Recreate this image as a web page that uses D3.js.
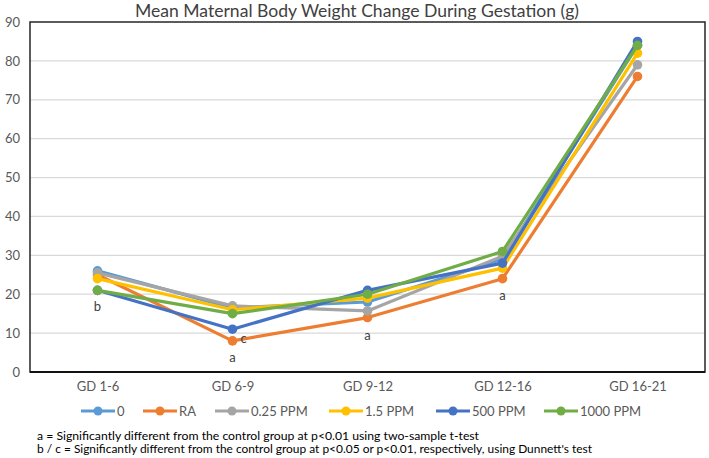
<!DOCTYPE html>
<html>
<head>
<meta charset="utf-8">
<script src="https://cdn.jsdelivr.net/npm/d3@7"></script>
<style>
  body { margin: 0; background: #fff; }
  svg { display: block; font-family: Lato, "Liberation Sans", sans-serif; }
</style>
</head>
<body>
<svg id="chart" width="709" height="458"></svg>
<script>
const categories = ["GD 1-6", "GD 6-9", "GD 9-12", "GD 12-16", "GD 16-21"];
const seriesNames = ["0", "RA", "0.25 PPM", "1.5 PPM", "500 PPM", "1000 PPM"];
const values0    = [26, 16.5, 18, 29, 84];
const valuesRA   = [25, 8, 14, 24, 76];
const values025  = [25.5, 17, 15.7, 29.8, 79];
const values15   = [24, 16, 19, 26.7, 82];
const values500  = [21, 11, 21, 28, 85];
const values1000 = [21, 15, 20, 31, 84];
const colors = ["#5B9BD5", "#ED7D31", "#A5A5A5", "#FFC000", "#4472C4", "#70AD47"];
const yTicks = [0, 10, 20, 30, 40, 50, 60, 70, 80, 90];
const annotations = [
  {cat: "GD 1-6", value: 21, text: "b", dx: 0, dy: 16},
  {cat: "GD 6-9", value: 8, text: "a", dx: 0, dy: 16},
  {cat: "GD 6-9", value: 11, text: "c", dx: 11, dy: 9},
  {cat: "GD 9-12", value: 14, text: "a", dx: 0, dy: 17},
  {cat: "GD 12-16", value: 24, text: "a", dx: 0, dy: 16}
];
const title = "Mean Maternal Body Weight Change During Gestation (g)";
const footnotes = [
  "a = Significantly different from the control group at p<0.01 using two-sample t-test",
  "b / c = Significantly different from the control group at p<0.05 or p<0.01, respectively, using Dunnett's test"
];

const allValues = [values0, valuesRA, values025, values15, values500, values1000];
const series = seriesNames.map((n, i) => ({name: n, color: colors[i], values: allValues[i]}));

const svg = d3.select("#chart");
const plot = {left: 30, right: 705, top: 22, bottom: 372};

const x = d3.scalePoint().domain(categories).range([plot.left, plot.right]).padding(0.5);
const y = d3.scaleLinear().domain([0, 90]).range([plot.bottom, plot.top]);

// Title
svg.append("text")
  .attr("x", 357).attr("y", 17)
  .attr("text-anchor", "middle")
  .attr("font-size", 17)
  .attr("fill", "#404040")
  .attr("textLength", 444).attr("lengthAdjust", "spacingAndGlyphs")
  .text(title);

// Gridlines
svg.append("g")
  .selectAll("line")
  .data(yTicks.filter(t => t > 0 && t < 90))
  .join("line")
  .attr("x1", plot.left).attr("x2", plot.right)
  .attr("y1", d => y(d)).attr("y2", d => y(d))
  .attr("stroke", "#d9d9d9").attr("stroke-width", 1.2);

// Frame
svg.append("rect")
  .attr("x", plot.left).attr("y", plot.top)
  .attr("width", plot.right - plot.left).attr("height", plot.bottom - plot.top)
  .attr("fill", "none").attr("stroke", "#262626").attr("stroke-width", 1.5);
svg.append("line")
  .attr("x1", plot.left).attr("x2", plot.right)
  .attr("y1", plot.bottom).attr("y2", plot.bottom)
  .attr("stroke", "#111").attr("stroke-width", 2);

// Y axis
const yAxis = d3.axisLeft(y).tickValues(yTicks).tickSize(0).tickPadding(10);
const yg = svg.append("g").attr("transform", `translate(${plot.left},0)`).call(yAxis);
yg.select(".domain").remove();
yg.selectAll("text").attr("font-size", 13).attr("fill", "#595959").attr("font-family", "Lato, sans-serif");

// X axis
const xAxis = d3.axisBottom(x).tickSize(0).tickPadding(10);
const xg = svg.append("g").attr("transform", `translate(0,${plot.bottom})`).call(xAxis);
xg.select(".domain").remove();
xg.selectAll("text").attr("font-size", 13).attr("fill", "#595959").attr("font-family", "Lato, sans-serif");

// Lines
const line = d3.line().x((d, i) => x(categories[i])).y(d => y(d));
const sg = svg.append("g").selectAll("g").data(series).join("g");
sg.append("path")
  .attr("d", d => line(d.values))
  .attr("fill", "none")
  .attr("stroke", d => d.color)
  .attr("stroke-width", 3.2)
  .attr("stroke-linejoin", "round");
sg.selectAll("circle")
  .data(d => d.values.map((v, i) => ({v, i, color: d.color})))
  .join("circle")
  .attr("cx", d => x(categories[d.i]))
  .attr("cy", d => y(d.v))
  .attr("r", 4.8)
  .attr("fill", d => d.color);

// Annotations
svg.append("g").selectAll("text").data(annotations).join("text")
  .attr("x", d => x(d.cat) + d.dx)
  .attr("y", d => y(d.value) + d.dy)
  .attr("text-anchor", "middle")
  .attr("dominant-baseline", "central")
  .attr("font-size", 13)
  .attr("fill", "#404040")
  .text(d => d.text);

// Legend
const legendX = [81, 143, 215, 329, 436, 544];
const legendY = 411;
const lg = svg.append("g").selectAll("g").data(series).join("g")
  .attr("transform", (d, i) => `translate(${legendX[i]},${legendY})`);
lg.append("line").attr("x1", 0).attr("x2", 34).attr("y1", 0).attr("y2", 0)
  .attr("stroke", d => d.color).attr("stroke-width", 3.2);
lg.append("circle").attr("cx", 17).attr("cy", 0).attr("r", 4.5).attr("fill", d => d.color);
lg.append("text").attr("x", 36).attr("y", 0)
  .attr("dominant-baseline", "central")
  .attr("font-size", 13).attr("fill", "#595959")
  .text(d => d.name);

// Footnotes
const fnWidths = [442, 555];
svg.append("g").selectAll("text").data(footnotes).join("text")
  .attr("x", 37)
  .attr("y", (d, i) => 435 + i * 13)
  .attr("dominant-baseline", "central")
  .attr("font-size", 11.5)
  .attr("fill", "#000")
  .attr("textLength", (d, i) => fnWidths[i]).attr("lengthAdjust", "spacingAndGlyphs")
  .text(d => d);
</script>
</body>
</html>
